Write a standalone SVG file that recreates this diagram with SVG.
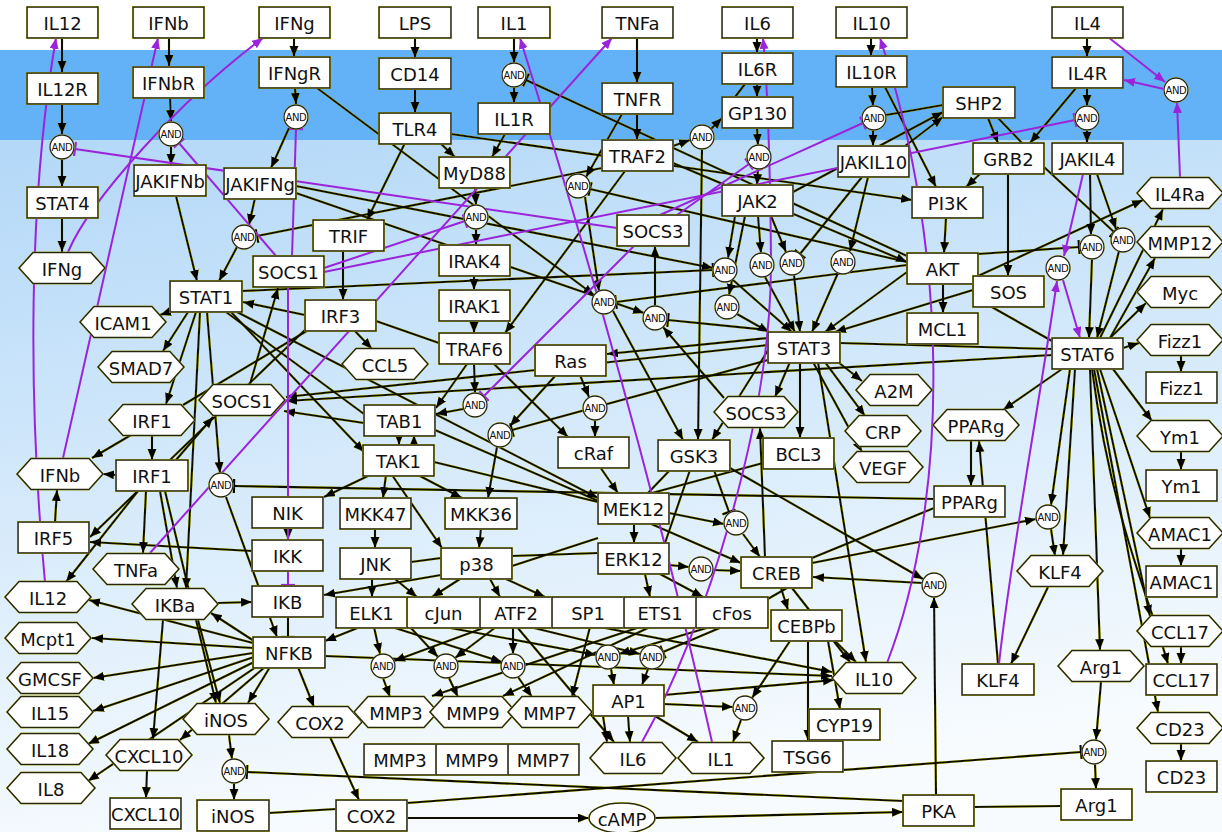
<svg xmlns="http://www.w3.org/2000/svg" width="1222" height="832" viewBox="0 0 1222 832">
<defs>
<linearGradient id="bg" x1="0" y1="0" x2="0.25" y2="1">
<stop offset="0" stop-color="#b3d8f8"/><stop offset="1" stop-color="#f7fbfe"/>
</linearGradient>
<marker id="ar" markerWidth="12" markerHeight="10" refX="11" refY="4.5" orient="auto" markerUnits="userSpaceOnUse"><path d="M0,0 L11,4.5 L0,9 z" fill="#000"/></marker>
<marker id="tb" markerWidth="5" markerHeight="14" refX="2.5" refY="7" orient="auto" markerUnits="userSpaceOnUse"><path d="M2.5,0 V14" stroke="#000" stroke-width="2.2"/></marker>
<marker id="par" markerWidth="12" markerHeight="10" refX="11" refY="4.5" orient="auto" markerUnits="userSpaceOnUse"><path d="M0,0 L11,4.5 L0,9 z" fill="#9b24db"/></marker>
<marker id="ptb" markerWidth="5" markerHeight="14" refX="2.5" refY="7" orient="auto" markerUnits="userSpaceOnUse"><path d="M2.5,0 V14" stroke="#9b24db" stroke-width="2.2"/></marker>
<filter id="hl" filterUnits="userSpaceOnUse" x="0" y="0" width="1222" height="832">
<feMorphology in="SourceAlpha" operator="dilate" radius="0.35" result="d"/>
<feFlood flood-color="#b4b400"/>
<feComposite in2="d" operator="in" result="y"/>
<feMerge><feMergeNode in="y"/><feMergeNode in="SourceGraphic"/></feMerge>
</filter>
<filter id="hs" x="-20%" y="-20%" width="140%" height="140%">
<feMorphology in="SourceAlpha" operator="dilate" radius="0.35" result="d"/>
<feFlood flood-color="#c8c800"/>
<feComposite in2="d" operator="in" result="y"/>
<feMerge><feMergeNode in="y"/><feMergeNode in="SourceGraphic"/></feMerge>
</filter>
</defs>
<style>
#edges line, #edges path {stroke:#0c0c00; stroke-width:2.1; fill:none}
#edges .a {marker-end:url(#ar)}
#edges .t {marker-end:url(#tb)}
#purple line, #purple path {stroke:#9b24db; stroke-width:2; fill:none}
#purple .pa {marker-end:url(#par)}
#purple .pt {marker-end:url(#ptb)}
.n rect, .n polygon, .n ellipse {fill:#fff; stroke:#26260c; stroke-width:1.6; filter:url(#hs)}
.n text {font-family:"DejaVu Sans", Verdana, sans-serif; font-size:18px; text-anchor:middle; dominant-baseline:central; fill:#111}
.and circle {fill:#fff; stroke:#222; stroke-width:1.3; filter:url(#hs)}
.and text {font-family:"DejaVu Sans", sans-serif; font-size:10px; text-anchor:middle; dominant-baseline:central; fill:#111; letter-spacing:-0.4px}
</style>
<rect x="0" y="0" width="1222" height="832" fill="#ffffff"/>
<rect x="0" y="50" width="1222" height="90" fill="#63b2f7"/>
<rect x="0" y="140" width="1222" height="692" fill="url(#bg)"/>

<g id="connectors">
<g id="edges" filter="url(#hl)">
<line x1="62" y1="37" x2="62" y2="72" class="a"/>
<line x1="62" y1="103" x2="62" y2="134" class="a"/>
<line x1="62" y1="159" x2="62" y2="187" class="a"/>
<line x1="62" y1="218" x2="62" y2="252" class="a"/>
<line x1="169" y1="37" x2="169" y2="66" class="a"/>
<line x1="170" y1="98" x2="171" y2="121" class="a"/>
<line x1="171" y1="146" x2="171" y2="165" class="a"/>
<line x1="176" y1="196" x2="197" y2="281" class="a"/>
<line x1="294" y1="37" x2="294" y2="57" class="a"/>
<line x1="295" y1="88" x2="296" y2="104" class="a"/>
<line x1="289" y1="128" x2="271" y2="168" class="a"/>
<line x1="255" y1="198" x2="249" y2="225" class="a"/>
<line x1="237" y1="247" x2="219" y2="281" class="a"/>
<line x1="602" y1="168" x2="257" y2="236" class="t"/>
<line x1="415" y1="37" x2="415" y2="58" class="a"/>
<line x1="415" y1="89" x2="415" y2="113" class="a"/>
<line x1="514" y1="37" x2="514" y2="63" class="a"/>
<line x1="514" y1="87" x2="514" y2="103" class="a"/>
<line x1="907" y1="256" x2="526" y2="80" class="t"/>
<line x1="505" y1="134" x2="492" y2="157" class="a"/>
<line x1="440" y1="143" x2="455" y2="157" class="a"/>
<line x1="405" y1="143" x2="367" y2="220" class="a"/>
<line x1="451" y1="134" x2="912" y2="200" class="a"/>
<line x1="475" y1="187" x2="476" y2="205" class="a"/>
<line x1="476" y1="229" x2="476" y2="245" class="a"/>
<line x1="474" y1="275" x2="474" y2="290" class="a"/>
<line x1="474" y1="320" x2="474" y2="333" class="a"/>
<line x1="474" y1="364" x2="475" y2="393" class="a"/>
<line x1="463" y1="409" x2="436" y2="414" class="a"/>
<line x1="467" y1="364" x2="436" y2="408" class="a"/>
<line x1="399" y1="435" x2="399" y2="445" class="a"/>
<line x1="414" y1="446" x2="414" y2="435" class="a"/>
<line x1="494" y1="364" x2="568" y2="437" class="a"/>
<line x1="580" y1="375" x2="589" y2="397" class="a"/>
<line x1="595" y1="420" x2="595" y2="437" class="a"/>
<line x1="556" y1="375" x2="510" y2="426" class="a"/>
<line x1="768" y1="360" x2="512" y2="430" class="t"/>
<line x1="497" y1="447" x2="488" y2="498" class="a"/>
<line x1="343" y1="251" x2="343" y2="300" class="a"/>
<line x1="305" y1="315" x2="243" y2="302" class="a"/>
<line x1="354" y1="330" x2="372" y2="349" class="a"/>
<line x1="376" y1="321" x2="439" y2="343" class="n"/>
<line x1="310" y1="329" x2="183" y2="405" class="n"/>
<line x1="306" y1="329" x2="90" y2="537" class="a"/>
<line x1="252" y1="551" x2="90" y2="542" class="a"/>
<line x1="370" y1="475" x2="324" y2="497" class="a"/>
<line x1="386" y1="475" x2="383" y2="498" class="a"/>
<line x1="418" y1="475" x2="462" y2="498" class="a"/>
<line x1="392" y1="475" x2="442" y2="548" class="a"/>
<line x1="434" y1="462" x2="598" y2="502" class="n"/>
<line x1="435" y1="430" x2="741" y2="563" class="a"/>
<line x1="364" y1="423" x2="284" y2="411" class="a"/>
<line x1="375" y1="528" x2="375" y2="548" class="a"/>
<line x1="481" y1="528" x2="479" y2="548" class="a"/>
<line x1="288" y1="528" x2="288" y2="540" class="a"/>
<line x1="288" y1="617" x2="288" y2="637" class="t"/>
<line x1="218" y1="603" x2="252" y2="602" class="a"/>
<line x1="372" y1="579" x2="372" y2="597" class="a"/>
<line x1="395" y1="579" x2="417" y2="597" class="a"/>
<line x1="411" y1="562" x2="441" y2="558" class="n"/>
<line x1="441" y1="575" x2="324" y2="595" class="a"/>
<line x1="460" y1="579" x2="432" y2="597" class="a"/>
<line x1="490" y1="579" x2="500" y2="597" class="a"/>
<line x1="506" y1="579" x2="545" y2="597" class="a"/>
<line x1="512" y1="556" x2="598" y2="553" class="n"/>
<line x1="512" y1="566" x2="598" y2="538" class="n"/>
<line x1="600" y1="467" x2="618" y2="493" class="a"/>
<line x1="634" y1="523" x2="634" y2="543" class="a"/>
<line x1="669" y1="565" x2="689" y2="567" class="a"/>
<line x1="713" y1="570" x2="741" y2="571" class="a"/>
<line x1="645" y1="574" x2="650" y2="597" class="a"/>
<line x1="660" y1="574" x2="703" y2="597" class="a"/>
<line x1="669" y1="513" x2="724" y2="524" class="a"/>
<line x1="714" y1="470" x2="729" y2="512" class="t"/>
<line x1="743" y1="534" x2="760" y2="557" class="a"/>
<line x1="670" y1="470" x2="648" y2="493" class="n"/>
<line x1="690" y1="470" x2="665" y2="543" class="n"/>
<line x1="730" y1="468" x2="923" y2="579" class="a"/>
<line x1="763" y1="463" x2="652" y2="493" class="n"/>
<line x1="790" y1="362" x2="775" y2="397" class="a"/>
<line x1="800" y1="362" x2="800" y2="438" class="a"/>
<line x1="838" y1="362" x2="862" y2="381" class="a"/>
<line x1="825" y1="362" x2="865" y2="416" class="a"/>
<line x1="813" y1="362" x2="862" y2="452" class="a"/>
<line x1="818" y1="362" x2="866" y2="662" class="a"/>
<line x1="768" y1="338" x2="607" y2="354" class="a"/>
<line x1="768" y1="345" x2="286" y2="397" class="a"/>
<line x1="1052" y1="355" x2="286" y2="401" class="a"/>
<line x1="768" y1="330" x2="668" y2="320" class="t"/>
<line x1="770" y1="347" x2="712" y2="440" class="a"/>
<line x1="724" y1="398" x2="663" y2="327" class="a"/>
<line x1="655" y1="306" x2="655" y2="246" class="a"/>
<line x1="765" y1="557" x2="760" y2="428" class="a"/>
<line x1="840" y1="343" x2="1052" y2="349" class="n"/>
<line x1="978" y1="276" x2="1143" y2="200" class="a"/>
<line x1="973" y1="290" x2="835" y2="332" class="a"/>
<line x1="907" y1="272" x2="825" y2="332" class="a"/>
<line x1="990" y1="306" x2="1052" y2="341" class="n"/>
<line x1="1008" y1="174" x2="1008" y2="276" class="a"/>
<line x1="980" y1="174" x2="966" y2="187" class="a"/>
<line x1="946" y1="218" x2="944" y2="253" class="a"/>
<line x1="943" y1="284" x2="943" y2="313" class="a"/>
<line x1="978" y1="254" x2="1079" y2="247" class="t"/>
<line x1="907" y1="265" x2="616" y2="302" class="t"/>
<line x1="907" y1="262" x2="590" y2="189" class="t"/>
<line x1="673" y1="163" x2="907" y2="262" class="a"/>
<line x1="1044" y1="167" x2="1114" y2="232" class="t"/>
<line x1="1090" y1="174" x2="1091" y2="235" class="a"/>
<line x1="1097" y1="174" x2="1116" y2="229" class="a"/>
<line x1="1092" y1="259" x2="1089" y2="338" class="a"/>
<line x1="1119" y1="251" x2="1097" y2="338" class="a"/>
<line x1="1076" y1="88" x2="1030" y2="143" class="a"/>
<line x1="1087" y1="88" x2="1087" y2="106" class="a"/>
<line x1="1087" y1="130" x2="1087" y2="143" class="a"/>
<line x1="1087" y1="38" x2="1087" y2="57" class="a"/>
<line x1="988" y1="118" x2="998" y2="143" class="a"/>
<line x1="998" y1="118" x2="1022" y2="143" class="n"/>
<line x1="905" y1="146" x2="943" y2="117" class="a"/>
<line x1="793" y1="192" x2="943" y2="112" class="a"/>
<line x1="886" y1="115" x2="943" y2="105" class="n"/>
<line x1="871" y1="38" x2="871" y2="56" class="a"/>
<line x1="872" y1="87" x2="873" y2="106" class="a"/>
<line x1="873" y1="130" x2="873" y2="146" class="a"/>
<line x1="885" y1="87" x2="936" y2="187" class="a"/>
<line x1="757" y1="38" x2="757" y2="53" class="a"/>
<line x1="757" y1="84" x2="757" y2="97" class="a"/>
<line x1="745" y1="84" x2="735" y2="97" class="n"/>
<line x1="711" y1="129" x2="722" y2="118" class="a"/>
<line x1="757" y1="128" x2="758" y2="145" class="a"/>
<line x1="758" y1="169" x2="757" y2="185" class="a"/>
<line x1="673" y1="146" x2="690" y2="140" class="a"/>
<line x1="702" y1="149" x2="698" y2="440" class="a"/>
<line x1="637" y1="38" x2="637" y2="83" class="a"/>
<line x1="637" y1="114" x2="637" y2="140" class="a"/>
<line x1="622" y1="114" x2="586" y2="177" class="a"/>
<line x1="625" y1="171" x2="505" y2="333" class="a"/>
<line x1="585" y1="197" x2="599" y2="291" class="a"/>
<line x1="317" y1="88" x2="594" y2="295" class="a"/>
<line x1="613" y1="311" x2="683" y2="440" class="a"/>
<line x1="296" y1="186" x2="713" y2="268" class="a"/>
<line x1="296" y1="193" x2="644" y2="313" class="a"/>
<line x1="242" y1="291" x2="713" y2="270" class="t"/>
<line x1="172" y1="311" x2="160" y2="315" class="a"/>
<line x1="188" y1="312" x2="163" y2="351" class="a"/>
<line x1="196" y1="312" x2="166" y2="404" class="a"/>
<line x1="207" y1="312" x2="220" y2="473" class="a"/>
<line x1="200" y1="312" x2="186" y2="589" class="a"/>
<line x1="226" y1="312" x2="364" y2="414" class="n"/>
<line x1="231" y1="312" x2="364" y2="452" class="a"/>
<line x1="237" y1="312" x2="598" y2="498" class="a"/>
<line x1="250" y1="384" x2="278" y2="288" class="a"/>
<line x1="226" y1="497" x2="277" y2="637" class="a"/>
<line x1="934" y1="499" x2="234" y2="486" class="t"/>
<line x1="152" y1="436" x2="152" y2="460" class="a"/>
<line x1="131" y1="435" x2="92" y2="458" class="a"/>
<line x1="116" y1="475" x2="103" y2="474" class="a"/>
<line x1="138" y1="491" x2="66" y2="582" class="a"/>
<line x1="146" y1="491" x2="143" y2="553" class="a"/>
<line x1="160" y1="491" x2="177" y2="588" class="a"/>
<line x1="165" y1="491" x2="216" y2="703" class="a"/>
<line x1="176" y1="460" x2="213" y2="417" class="a"/>
<line x1="55" y1="522" x2="57" y2="490" class="a"/>
<line x1="253" y1="643" x2="89" y2="600" class="a"/>
<line x1="253" y1="648" x2="92" y2="638" class="a"/>
<line x1="253" y1="653" x2="93" y2="678" class="a"/>
<line x1="254" y1="657" x2="93" y2="711" class="a"/>
<line x1="256" y1="661" x2="88" y2="744" class="a"/>
<line x1="259" y1="665" x2="88" y2="781" class="a"/>
<line x1="265" y1="667" x2="180" y2="740" class="a"/>
<line x1="254" y1="641" x2="211" y2="613" class="a"/>
<line x1="270" y1="667" x2="248" y2="703" class="a"/>
<line x1="298" y1="667" x2="314" y2="707" class="a"/>
<line x1="325" y1="656" x2="832" y2="676" class="a"/>
<line x1="360" y1="627" x2="325" y2="641" class="a"/>
<line x1="374" y1="627" x2="380" y2="654" class="a"/>
<line x1="392" y1="627" x2="502" y2="662" class="a"/>
<line x1="410" y1="627" x2="438" y2="657" class="a"/>
<line x1="496" y1="627" x2="455" y2="658" class="a"/>
<line x1="486" y1="627" x2="394" y2="661" class="a"/>
<line x1="513" y1="627" x2="513" y2="654" class="a"/>
<line x1="445" y1="627" x2="596" y2="655" class="a"/>
<line x1="530" y1="627" x2="640" y2="654" class="a"/>
<line x1="710" y1="627" x2="619" y2="654" class="a"/>
<line x1="722" y1="627" x2="663" y2="652" class="t"/>
<line x1="517" y1="627" x2="614" y2="742" class="a"/>
<line x1="383" y1="678" x2="390" y2="697" class="a"/>
<line x1="449" y1="678" x2="458" y2="697" class="a"/>
<line x1="518" y1="677" x2="532" y2="697" class="a"/>
<line x1="640" y1="627" x2="432" y2="696" class="a"/>
<line x1="650" y1="627" x2="503" y2="696" class="a"/>
<line x1="590" y1="627" x2="572" y2="697" class="a"/>
<line x1="600" y1="627" x2="832" y2="672" class="a"/>
<line x1="766" y1="600" x2="787" y2="588" class="n"/>
<line x1="611" y1="669" x2="614" y2="685" class="a"/>
<line x1="648" y1="669" x2="642" y2="685" class="a"/>
<line x1="628" y1="716" x2="630" y2="742" class="a"/>
<line x1="603" y1="716" x2="607" y2="742" class="a"/>
<line x1="655" y1="716" x2="698" y2="742" class="a"/>
<line x1="664" y1="704" x2="733" y2="707" class="a"/>
<line x1="741" y1="720" x2="733" y2="742" class="a"/>
<line x1="664" y1="695" x2="834" y2="680" class="a"/>
<line x1="781" y1="588" x2="788" y2="610" class="a"/>
<line x1="792" y1="588" x2="850" y2="662" class="a"/>
<line x1="835" y1="641" x2="856" y2="662" class="a"/>
<line x1="790" y1="641" x2="752" y2="698" class="a"/>
<line x1="808" y1="641" x2="808" y2="741" class="a"/>
<line x1="828" y1="641" x2="840" y2="709" class="a"/>
<line x1="922" y1="583" x2="813" y2="577" class="a"/>
<line x1="812" y1="563" x2="1036" y2="519" class="a"/>
<line x1="812" y1="558" x2="934" y2="508" class="n"/>
<line x1="936" y1="795" x2="934" y2="597" class="a"/>
<line x1="974" y1="807" x2="1061" y2="806" class="n"/>
<line x1="407" y1="818" x2="589" y2="818" class="a"/>
<line x1="655" y1="818" x2="903" y2="812" class="a"/>
<line x1="330" y1="737" x2="359" y2="800" class="a"/>
<line x1="269" y1="813" x2="336" y2="809" class="n"/>
<line x1="903" y1="801" x2="247" y2="772" class="t"/>
<line x1="407" y1="803" x2="1081" y2="752" class="t"/>
<line x1="229" y1="735" x2="232" y2="759" class="a"/>
<line x1="234" y1="783" x2="234" y2="800" class="a"/>
<line x1="163" y1="620" x2="153" y2="739" class="a"/>
<line x1="198" y1="620" x2="220" y2="703" class="a"/>
<line x1="147" y1="771" x2="146" y2="798" class="a"/>
<line x1="1101" y1="682" x2="1096" y2="740" class="a"/>
<line x1="1095" y1="764" x2="1096" y2="789" class="a"/>
<line x1="1090" y1="369" x2="1100" y2="650" class="a"/>
<line x1="1075" y1="369" x2="1063" y2="555" class="a"/>
<line x1="1070" y1="369" x2="1051" y2="505" class="a"/>
<line x1="1051" y1="529" x2="1055" y2="556" class="a"/>
<line x1="1062" y1="369" x2="1003" y2="410" class="a"/>
<line x1="1110" y1="338" x2="1146" y2="303" class="a"/>
<line x1="1123" y1="348" x2="1139" y2="343" class="a"/>
<line x1="1113" y1="369" x2="1152" y2="421" class="a"/>
<line x1="1100" y1="369" x2="1150" y2="518" class="a"/>
<line x1="1097" y1="369" x2="1150" y2="616" class="a"/>
<line x1="1094" y1="369" x2="1158" y2="712" class="a"/>
<path d="M1092,369 C1112,520 1150,600 1168,664" class="a"/>
<line x1="1100" y1="338" x2="1163" y2="209" class="a"/>
<line x1="1110" y1="338" x2="1155" y2="258" class="a"/>
<line x1="1181" y1="356" x2="1181" y2="372" class="a"/>
<line x1="1181" y1="452" x2="1181" y2="470" class="a"/>
<line x1="1181" y1="549" x2="1181" y2="566" class="a"/>
<line x1="1181" y1="647" x2="1181" y2="664" class="a"/>
<line x1="1181" y1="744" x2="1181" y2="761" class="a"/>
<line x1="1048" y1="587" x2="1011" y2="664" class="a"/>
<line x1="998" y1="664" x2="979" y2="441" class="a"/>
<line x1="971" y1="441" x2="971" y2="486" class="a"/>
<line x1="735" y1="216" x2="728" y2="258" class="a"/>
<line x1="758" y1="216" x2="761" y2="253" class="a"/>
<line x1="771" y1="216" x2="786" y2="252" class="a"/>
<line x1="745" y1="216" x2="729" y2="295" class="a"/>
<line x1="868" y1="177" x2="850" y2="251" class="a"/>
<line x1="862" y1="177" x2="800" y2="254" class="t"/>
<line x1="733" y1="280" x2="792" y2="332" class="a"/>
<line x1="765" y1="277" x2="795" y2="332" class="a"/>
<line x1="794" y1="275" x2="800" y2="332" class="a"/>
<line x1="838" y1="273" x2="812" y2="332" class="a"/>
<line x1="737" y1="314" x2="769" y2="332" class="a"/>
</g>
<g id="purple">
<path d="M45,582 C28,400 28,200 56,38" class="pa"/>
<line x1="63" y1="458" x2="158" y2="38" class="pa"/>
<path d="M68,252 C90,200 180,100 263,38" class="pa"/>
<line x1="617" y1="228" x2="75" y2="149" class="pt"/>
<line x1="276" y1="256" x2="179" y2="143" class="pt"/>
<line x1="292" y1="256" x2="296" y2="129" class="pt"/>
<line x1="288" y1="287" x2="288" y2="585" class="pt"/>
<line x1="150" y1="553" x2="612" y2="38" class="pa"/>
<path d="M642,742 C705,630 772,420 771,260 C770,150 768,90 763,38" class="pa"/>
<path d="M712,742 Q640,420 520,38" class="pa"/>
<path d="M887,663 C950,500 950,250 880,38" class="pa"/>
<line x1="1108" y1="37" x2="1165" y2="82" class="pa"/>
<line x1="1164" y1="89" x2="1124" y2="80" class="pa"/>
<line x1="1180" y1="177" x2="1177" y2="102" class="pa"/>
<line x1="1083" y1="174" x2="1064" y2="256" class="pa"/>
<line x1="1063" y1="280" x2="1080" y2="338" class="pa"/>
<path d="M999,664 C1010,560 1040,400 1057,281" class="pa"/>
<line x1="324" y1="272" x2="1075" y2="120" class="pt"/>
<line x1="324" y1="268" x2="465" y2="221" class="pt"/>
<line x1="677" y1="215" x2="749" y2="164" class="pt"/>
<line x1="660" y1="215" x2="863" y2="123" class="pt"/>
<line x1="635" y1="245" x2="484" y2="396" class="pt"/>
</g>
</g>

<g id="nodes">
<g id="IL12" class="n"><rect x="27" y="7" width="71" height="31"/><text x="62.5" y="23">IL12</text></g>
<g id="IFNb" class="n"><rect x="133" y="7" width="71" height="31"/><text x="168.5" y="23">IFNb</text></g>
<g id="IFNg" class="n"><rect x="259" y="7" width="71" height="31"/><text x="294.5" y="23">IFNg</text></g>
<g id="LPS" class="n"><rect x="379" y="7" width="72" height="31"/><text x="415" y="23">LPS</text></g>
<g id="IL1" class="n"><rect x="478" y="7" width="72" height="31"/><text x="514" y="23">IL1</text></g>
<g id="TNFa" class="n"><rect x="602" y="7" width="71" height="31"/><text x="637.5" y="23">TNFa</text></g>
<g id="IL6" class="n"><rect x="722" y="7" width="71" height="31"/><text x="757.5" y="23">IL6</text></g>
<g id="IL10" class="n"><rect x="836" y="7" width="71" height="31"/><text x="871.5" y="23">IL10</text></g>
<g id="IL4" class="n"><rect x="1052" y="7" width="71" height="31"/><text x="1087.5" y="23">IL4</text></g>
<g id="IL12R" class="n"><rect x="27" y="73" width="71" height="31"/><text x="62.5" y="89">IL12R</text></g>
<g id="IFNbR" class="n"><rect x="133" y="67" width="71" height="31"/><text x="168.5" y="83">IFNbR</text></g>
<g id="IFNgR" class="n"><rect x="259" y="57" width="71" height="31"/><text x="294.5" y="73">IFNgR</text></g>
<g id="CD14" class="n"><rect x="379" y="58" width="72" height="31"/><text x="415" y="74">CD14</text></g>
<g id="TLR4" class="n"><rect x="379" y="113" width="72" height="31"/><text x="415" y="129">TLR4</text></g>
<g id="IL1R" class="n"><rect x="478" y="103" width="72" height="31"/><text x="514" y="119">IL1R</text></g>
<g id="TNFR" class="n"><rect x="602" y="83" width="71" height="31"/><text x="637.5" y="99">TNFR</text></g>
<g id="IL6R" class="n"><rect x="722" y="53" width="71" height="31"/><text x="757.5" y="69">IL6R</text></g>
<g id="GP130" class="n"><rect x="722" y="97" width="71" height="31"/><text x="757.5" y="113">GP130</text></g>
<g id="IL10R" class="n"><rect x="836" y="56" width="71" height="31"/><text x="871.5" y="72">IL10R</text></g>
<g id="IL4R" class="n"><rect x="1052" y="57" width="71" height="31"/><text x="1087.5" y="73">IL4R</text></g>
<g id="SHP2" class="n"><rect x="943" y="87" width="72" height="31"/><text x="979" y="103">SHP2</text></g>
<g id="TRAF2" class="n"><rect x="602" y="140" width="71" height="31"/><text x="637.5" y="156">TRAF2</text></g>
<g id="JAKIFNb" class="n"><rect x="134" y="165" width="72" height="31"/><text x="170" y="181">JAKIFNb</text></g>
<g id="JAKIFNg" class="n"><rect x="224" y="168" width="72" height="31"/><text x="260" y="184">JAKIFNg</text></g>
<g id="STAT4" class="n"><rect x="27" y="187" width="71" height="31"/><text x="62.5" y="203">STAT4</text></g>
<g id="MyD88" class="n"><rect x="439" y="157" width="71" height="31"/><text x="474.5" y="173">MyD88</text></g>
<g id="TRIF" class="n"><rect x="313" y="220" width="71" height="31"/><text x="348.5" y="236">TRIF</text></g>
<g id="IRAK4" class="n"><rect x="439" y="245" width="71" height="31"/><text x="474.5" y="261">IRAK4</text></g>
<g id="JAK2" class="n"><rect x="722" y="185" width="71" height="31"/><text x="757.5" y="201">JAK2</text></g>
<g id="SOCS3" class="n"><rect x="617" y="215" width="72" height="31"/><text x="653" y="231">SOCS3</text></g>
<g id="JAKIL10" class="n"><rect x="838" y="146" width="71" height="31"/><text x="873.5" y="162">JAKIL10</text></g>
<g id="GRB2" class="n"><rect x="973" y="143" width="71" height="31"/><text x="1008.5" y="159">GRB2</text></g>
<g id="JAKIL4" class="n"><rect x="1052" y="143" width="71" height="31"/><text x="1087.5" y="159">JAKIL4</text></g>
<g id="PI3K" class="n"><rect x="912" y="187" width="71" height="31"/><text x="947.5" y="203">PI3K</text></g>
<g id="AKT" class="n"><rect x="907" y="253" width="71" height="31"/><text x="942.5" y="269">AKT</text></g>
<g id="SOS" class="n"><rect x="973" y="276" width="71" height="31"/><text x="1008.5" y="292">SOS</text></g>
<g id="MCL1" class="n"><rect x="907" y="313" width="71" height="31"/><text x="942.5" y="329">MCL1</text></g>
<g id="STAT6" class="n"><rect x="1052" y="338" width="71" height="31"/><text x="1087.5" y="354">STAT6</text></g>
<g id="SOCS1" class="n"><rect x="253" y="256" width="71" height="31"/><text x="288.5" y="272">SOCS1</text></g>
<g id="STAT1" class="n"><rect x="170" y="281" width="72" height="31"/><text x="206" y="297">STAT1</text></g>
<g id="IRF3" class="n"><rect x="305" y="300" width="71" height="31"/><text x="340.5" y="316">IRF3</text></g>
<g id="IRAK1" class="n"><rect x="439" y="290" width="71" height="31"/><text x="474.5" y="306">IRAK1</text></g>
<g id="TRAF6" class="n"><rect x="439" y="333" width="71" height="31"/><text x="474.5" y="349">TRAF6</text></g>
<g id="Ras" class="n"><rect x="535" y="345" width="71" height="31"/><text x="570.5" y="361">Ras</text></g>
<g id="STAT3" class="n"><rect x="768" y="332" width="72" height="31"/><text x="804" y="348">STAT3</text></g>
<g id="TAB1" class="n"><rect x="364" y="405" width="71" height="31"/><text x="399.5" y="421">TAB1</text></g>
<g id="TAK1" class="n"><rect x="363" y="445" width="71" height="31"/><text x="398.5" y="461">TAK1</text></g>
<g id="cRaf" class="n"><rect x="558" y="437" width="71" height="31"/><text x="593.5" y="453">cRaf</text></g>
<g id="GSK3" class="n"><rect x="658" y="440" width="72" height="31"/><text x="694" y="456">GSK3</text></g>
<g id="BCL3" class="n"><rect x="763" y="438" width="71" height="31"/><text x="798.5" y="454">BCL3</text></g>
<g id="PPARg" class="n"><rect x="934" y="486" width="71" height="31"/><text x="969.5" y="502">PPARg</text></g>
<g id="IRF1" class="n"><rect x="116" y="460" width="72" height="31"/><text x="152" y="476">IRF1</text></g>
<g id="IRF5" class="n"><rect x="18" y="522" width="71" height="31"/><text x="53.5" y="538">IRF5</text></g>
<g id="NIK" class="n"><rect x="252" y="497" width="71" height="31"/><text x="287.5" y="513">NIK</text></g>
<g id="MKK47" class="n"><rect x="340" y="498" width="71" height="31"/><text x="375.5" y="514">MKK47</text></g>
<g id="MKK36" class="n"><rect x="445" y="498" width="72" height="31"/><text x="481" y="514">MKK36</text></g>
<g id="MEK12" class="n"><rect x="598" y="493" width="71" height="31"/><text x="633.5" y="509">MEK12</text></g>
<g id="IKK" class="n"><rect x="252" y="540" width="71" height="31"/><text x="287.5" y="556">IKK</text></g>
<g id="JNK" class="n"><rect x="340" y="548" width="71" height="31"/><text x="375.5" y="564">JNK</text></g>
<g id="p38" class="n"><rect x="441" y="548" width="71" height="31"/><text x="476.5" y="564">p38</text></g>
<g id="ERK12" class="n"><rect x="598" y="543" width="71" height="31"/><text x="633.5" y="559">ERK12</text></g>
<g id="CREB" class="n"><rect x="741" y="557" width="71" height="31"/><text x="776.5" y="573">CREB</text></g>
<g id="IKB" class="n"><rect x="252" y="586" width="71" height="31"/><text x="287.5" y="602">IKB</text></g>
<g id="ELK1" class="n"><rect x="336" y="597" width="71" height="31"/><text x="371.5" y="613">ELK1</text></g>
<g id="cJun" class="n"><rect x="407" y="597" width="73" height="31"/><text x="443.5" y="613">cJun</text></g>
<g id="ATF2" class="n"><rect x="480" y="597" width="72" height="31"/><text x="516" y="613">ATF2</text></g>
<g id="SP1" class="n"><rect x="552" y="597" width="72" height="31"/><text x="588" y="613">SP1</text></g>
<g id="ETS1" class="n"><rect x="624" y="597" width="72" height="31"/><text x="660" y="613">ETS1</text></g>
<g id="cFos" class="n"><rect x="696" y="597" width="72" height="31"/><text x="732" y="613">cFos</text></g>
<g id="NFKB" class="n"><rect x="253" y="637" width="72" height="31"/><text x="289" y="653">NFKB</text></g>
<g id="CEBPb" class="n"><rect x="771" y="610" width="71" height="31"/><text x="806.5" y="626">CEBPb</text></g>
<g id="AP1" class="n"><rect x="593" y="685" width="71" height="31"/><text x="628.5" y="701">AP1</text></g>
<g id="CYP19" class="n"><rect x="809" y="709" width="71" height="31"/><text x="844.5" y="725">CYP19</text></g>
<g id="TSG6" class="n"><rect x="772" y="741" width="71" height="31"/><text x="807.5" y="757">TSG6</text></g>
<g id="KLF4" class="n"><rect x="962" y="664" width="72" height="31"/><text x="998" y="680">KLF4</text></g>
<g id="MMP3" class="n"><rect x="364" y="744" width="72" height="31"/><text x="400" y="760">MMP3</text></g>
<g id="MMP9" class="n"><rect x="436" y="744" width="72" height="31"/><text x="472" y="760">MMP9</text></g>
<g id="MMP7" class="n"><rect x="508" y="744" width="71" height="31"/><text x="543.5" y="760">MMP7</text></g>
<g id="CXCL10" class="n"><rect x="110" y="798" width="71" height="31"/><text x="145.5" y="814">CXCL10</text></g>
<g id="iNOS" class="n"><rect x="197" y="800" width="72" height="31"/><text x="233" y="816">iNOS</text></g>
<g id="COX2" class="n"><rect x="336" y="800" width="71" height="31"/><text x="371.5" y="816">COX2</text></g>
<g id="PKA" class="n"><rect x="903" y="795" width="71" height="31"/><text x="938.5" y="811">PKA</text></g>
<g id="Arg1" class="n"><rect x="1061" y="789" width="71" height="31"/><text x="1096.5" y="805">Arg1</text></g>
<g id="Fizz1" class="n"><rect x="1146" y="372" width="71" height="31"/><text x="1181.5" y="388">Fizz1</text></g>
<g id="Ym1" class="n"><rect x="1146" y="470" width="71" height="31"/><text x="1181.5" y="486">Ym1</text></g>
<g id="AMAC1" class="n"><rect x="1146" y="566" width="71" height="31"/><text x="1181.5" y="582">AMAC1</text></g>
<g id="CCL17" class="n"><rect x="1146" y="664" width="71" height="31"/><text x="1181.5" y="680">CCL17</text></g>
<g id="CD23" class="n"><rect x="1146" y="761" width="71" height="31"/><text x="1181.5" y="777">CD23</text></g>
<g id="cAMP" class="n"><ellipse cx="622" cy="818" rx="33" ry="15"/><text x="622" y="819">cAMP</text></g>

<g id="IFNg_sec" class="n"><polygon points="19,268 33,252.5 91,252.5 105,268 91,283.5 33,283.5"/><text x="62" y="269">IFNg</text></g>
<g id="IL4Ra" class="n"><polygon points="1137,193 1151,177.5 1209,177.5 1223,193 1209,208.5 1151,208.5"/><text x="1180" y="194">IL4Ra</text></g>
<g id="MMP12" class="n"><polygon points="1137,242 1151,226.5 1209,226.5 1223,242 1209,257.5 1151,257.5"/><text x="1180" y="243">MMP12</text></g>
<g id="Myc" class="n"><polygon points="1137,292 1151,276.5 1209,276.5 1223,292 1209,307.5 1151,307.5"/><text x="1180" y="293">Myc</text></g>
<g id="Fizz1_sec" class="n"><polygon points="1137,340 1151,324.5 1209,324.5 1223,340 1209,355.5 1151,355.5"/><text x="1180" y="341">Fizz1</text></g>
<g id="Ym1_sec" class="n"><polygon points="1137,436 1151,420.5 1209,420.5 1223,436 1209,451.5 1151,451.5"/><text x="1180" y="437">Ym1</text></g>
<g id="AMAC1_sec" class="n"><polygon points="1137,533 1151,517.5 1209,517.5 1223,533 1209,548.5 1151,548.5"/><text x="1180" y="534">AMAC1</text></g>
<g id="CCL17_sec" class="n"><polygon points="1137,631 1151,615.5 1209,615.5 1223,631 1209,646.5 1151,646.5"/><text x="1180" y="632">CCL17</text></g>
<g id="CD23_sec" class="n"><polygon points="1137,728 1151,712.5 1209,712.5 1223,728 1209,743.5 1151,743.5"/><text x="1180" y="729">CD23</text></g>
<g id="ICAM1" class="n"><polygon points="80,322 94,306.5 152,306.5 166,322 152,337.5 94,337.5"/><text x="123" y="323">ICAM1</text></g>
<g id="SMAD7" class="n"><polygon points="98,367 112,351.5 170,351.5 184,367 170,382.5 112,382.5"/><text x="141" y="368">SMAD7</text></g>
<g id="IRF1_sec" class="n"><polygon points="109,420 123,404.5 181,404.5 195,420 181,435.5 123,435.5"/><text x="152" y="421">IRF1</text></g>
<g id="SOCS1_sec" class="n"><polygon points="199,400 213,384.5 271,384.5 285,400 271,415.5 213,415.5"/><text x="242" y="401">SOCS1</text></g>
<g id="CCL5" class="n"><polygon points="342,364 356,348.5 414,348.5 428,364 414,379.5 356,379.5"/><text x="385" y="365">CCL5</text></g>
<g id="A2M" class="n"><polygon points="856,390 870,374.5 918,374.5 932,390 918,405.5 870,405.5"/><text x="894" y="391">A2M</text></g>
<g id="CRP" class="n"><polygon points="845,431 859,415.5 907,415.5 921,431 907,446.5 859,446.5"/><text x="883" y="432">CRP</text></g>
<g id="VEGF" class="n"><polygon points="843,467 857,451.5 909,451.5 923,467 909,482.5 857,482.5"/><text x="883" y="468">VEGF</text></g>
<g id="SOCS3_sec" class="n"><polygon points="714,412 728,396.5 784,396.5 798,412 784,427.5 728,427.5"/><text x="756" y="413">SOCS3</text></g>
<g id="PPARg_sec" class="n"><polygon points="933,425 947,409.5 1005,409.5 1019,425 1005,440.5 947,440.5"/><text x="976" y="426">PPARg</text></g>
<g id="KLF4_sec" class="n"><polygon points="1017,571 1031,555.5 1089,555.5 1103,571 1089,586.5 1031,586.5"/><text x="1060" y="572">KLF4</text></g>
<g id="Arg1_sec" class="n"><polygon points="1058,666 1072,650.5 1130,650.5 1144,666 1130,681.5 1072,681.5"/><text x="1101" y="667">Arg1</text></g>
<g id="IFNb_sec" class="n"><polygon points="17,474 31,458.5 89,458.5 103,474 89,489.5 31,489.5"/><text x="60" y="475">IFNb</text></g>
<g id="TNFa_sec" class="n"><polygon points="93,569 107,553.5 165,553.5 179,569 165,584.5 107,584.5"/><text x="136" y="570">TNFa</text></g>
<g id="IL12_sec" class="n"><polygon points="5,597 19,581.5 77,581.5 91,597 77,612.5 19,612.5"/><text x="48" y="598">IL12</text></g>
<g id="IKBa" class="n"><polygon points="132,604 146,588.5 204,588.5 218,604 204,619.5 146,619.5"/><text x="175" y="605">IKBa</text></g>
<g id="Mcpt1" class="n"><polygon points="5,638 19,622.5 77,622.5 91,638 77,653.5 19,653.5"/><text x="48" y="639">Mcpt1</text></g>
<g id="GMCSF" class="n"><polygon points="7,678 21,662.5 79,662.5 93,678 79,693.5 21,693.5"/><text x="50" y="679">GMCSF</text></g>
<g id="IL15" class="n"><polygon points="7,712 21,696.5 79,696.5 93,712 79,727.5 21,727.5"/><text x="50" y="713">IL15</text></g>
<g id="IL18" class="n"><polygon points="7,749 21,733.5 79,733.5 93,749 79,764.5 21,764.5"/><text x="50" y="750">IL18</text></g>
<g id="IL8" class="n"><polygon points="7,788 21,772.5 81,772.5 95,788 81,803.5 21,803.5"/><text x="51" y="789">IL8</text></g>
<g id="CXCL10_sec" class="n"><polygon points="106,755 120,739.5 178,739.5 192,755 178,770.5 120,770.5"/><text x="149" y="756">CXCL10</text></g>
<g id="iNOS_sec" class="n"><polygon points="183,719 197,703.5 255,703.5 269,719 255,734.5 197,734.5"/><text x="226" y="720">iNOS</text></g>
<g id="COX2_sec" class="n"><polygon points="278,722 292,706.5 348,706.5 362,722 348,737.5 292,737.5"/><text x="320" y="723">COX2</text></g>
<g id="MMP3_sec" class="n"><polygon points="354,712 368,696.5 424,696.5 438,712 424,727.5 368,727.5"/><text x="396" y="713">MMP3</text></g>
<g id="MMP9_sec" class="n"><polygon points="430,712 444,696.5 502,696.5 516,712 502,727.5 444,727.5"/><text x="473" y="713">MMP9</text></g>
<g id="MMP7_sec" class="n"><polygon points="508,712 522,696.5 578,696.5 592,712 578,727.5 522,727.5"/><text x="550" y="713">MMP7</text></g>
<g id="IL10_sec" class="n"><polygon points="832,678 846,662.5 902,662.5 916,678 902,693.5 846,693.5"/><text x="874" y="679">IL10</text></g>
<g id="IL6_sec" class="n"><polygon points="590,758 604,742.5 662,742.5 676,758 662,773.5 604,773.5"/><text x="633" y="759">IL6</text></g>
<g id="IL1_sec" class="n"><polygon points="678,758 692,742.5 750,742.5 764,758 750,773.5 692,773.5"/><text x="721" y="759">IL1</text></g>

<g id="and1" class="and"><circle cx="62" cy="147" r="12"/><text x="62" y="147.5">AND</text></g>
<g id="and2" class="and"><circle cx="171" cy="134" r="12"/><text x="171" y="134.5">AND</text></g>
<g id="and3" class="and"><circle cx="296" cy="117" r="12"/><text x="296" y="117.5">AND</text></g>
<g id="and4" class="and"><circle cx="244" cy="237" r="12"/><text x="244" y="237.5">AND</text></g>
<g id="and5" class="and"><circle cx="514" cy="75" r="12"/><text x="514" y="75.5">AND</text></g>
<g id="and6" class="and"><circle cx="476" cy="217" r="12"/><text x="476" y="217.5">AND</text></g>
<g id="and7" class="and"><circle cx="702" cy="137" r="12"/><text x="702" y="137.5">AND</text></g>
<g id="and8" class="and"><circle cx="759" cy="157" r="12"/><text x="759" y="157.5">AND</text></g>
<g id="and9" class="and"><circle cx="874" cy="118" r="12"/><text x="874" y="118.5">AND</text></g>
<g id="and10" class="and"><circle cx="1087" cy="118" r="12"/><text x="1087" y="118.5">AND</text></g>
<g id="and11" class="and"><circle cx="1176" cy="90" r="12"/><text x="1176" y="90.5">AND</text></g>
<g id="and12" class="and"><circle cx="578" cy="186" r="12"/><text x="578" y="186.5">AND</text></g>
<g id="and13" class="and"><circle cx="725" cy="270" r="12"/><text x="725" y="270.5">AND</text></g>
<g id="and14" class="and"><circle cx="762" cy="265" r="12"/><text x="762" y="265.5">AND</text></g>
<g id="and15" class="and"><circle cx="792" cy="263" r="12"/><text x="792" y="263.5">AND</text></g>
<g id="and16" class="and"><circle cx="843" cy="262" r="12"/><text x="843" y="262.5">AND</text></g>
<g id="and17" class="and"><circle cx="604" cy="302" r="12"/><text x="604" y="302.5">AND</text></g>
<g id="and18" class="and"><circle cx="655" cy="318" r="12"/><text x="655" y="318.5">AND</text></g>
<g id="and19" class="and"><circle cx="727" cy="307" r="12"/><text x="727" y="307.5">AND</text></g>
<g id="and20" class="and"><circle cx="1058" cy="268" r="12"/><text x="1058" y="268.5">AND</text></g>
<g id="and21" class="and"><circle cx="1092" cy="247" r="12"/><text x="1092" y="247.5">AND</text></g>
<g id="and22" class="and"><circle cx="1123" cy="240" r="12"/><text x="1123" y="240.5">AND</text></g>
<g id="and23" class="and"><circle cx="221" cy="485" r="12"/><text x="221" y="485.5">AND</text></g>
<g id="and24" class="and"><circle cx="475" cy="405" r="12"/><text x="475" y="405.5">AND</text></g>
<g id="and25" class="and"><circle cx="500" cy="435" r="12"/><text x="500" y="435.5">AND</text></g>
<g id="and26" class="and"><circle cx="595" cy="408" r="12"/><text x="595" y="408.5">AND</text></g>
<g id="and27" class="and"><circle cx="736" cy="523" r="12"/><text x="736" y="523.5">AND</text></g>
<g id="and28" class="and"><circle cx="701" cy="569" r="12"/><text x="701" y="569.5">AND</text></g>
<g id="and29" class="and"><circle cx="383" cy="666" r="12"/><text x="383" y="666.5">AND</text></g>
<g id="and30" class="and"><circle cx="446" cy="666" r="12"/><text x="446" y="666.5">AND</text></g>
<g id="and31" class="and"><circle cx="513" cy="666" r="12"/><text x="513" y="666.5">AND</text></g>
<g id="and32" class="and"><circle cx="608" cy="657" r="12"/><text x="608" y="657.5">AND</text></g>
<g id="and33" class="and"><circle cx="652" cy="657" r="12"/><text x="652" y="657.5">AND</text></g>
<g id="and34" class="and"><circle cx="745" cy="708" r="12"/><text x="745" y="708.5">AND</text></g>
<g id="and35" class="and"><circle cx="234" cy="771" r="12"/><text x="234" y="771.5">AND</text></g>
<g id="and36" class="and"><circle cx="1048" cy="517" r="12"/><text x="1048" y="517.5">AND</text></g>
<g id="and37" class="and"><circle cx="934" cy="585" r="12"/><text x="934" y="585.5">AND</text></g>
<g id="and38" class="and"><circle cx="1094" cy="752" r="12"/><text x="1094" y="752.5">AND</text></g>
</g>
</svg>
